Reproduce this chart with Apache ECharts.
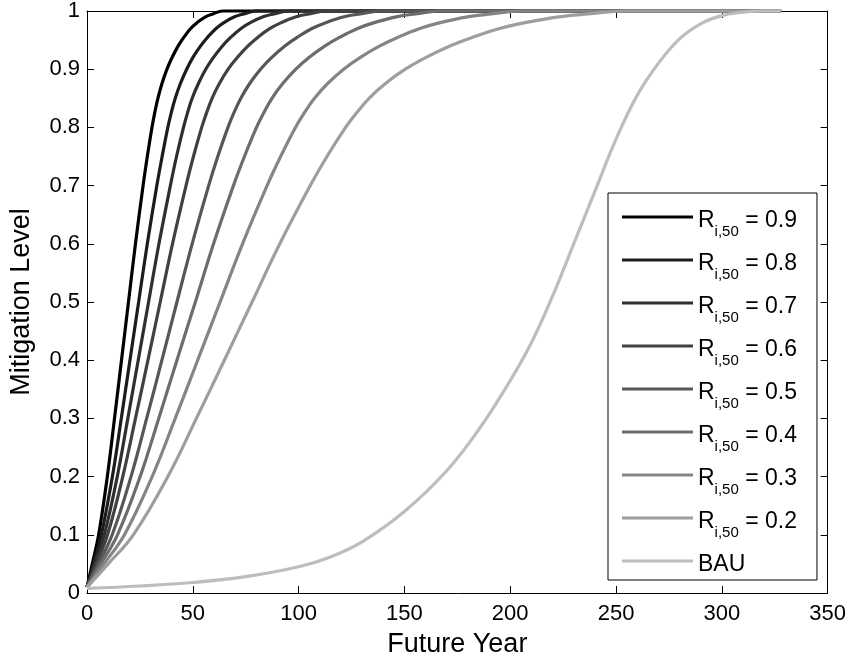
<!DOCTYPE html>
<html>
<head>
<meta charset="utf-8">
<script src="https://cdn.jsdelivr.net/npm/echarts@6/dist/echarts.min.js"></script>
<style>
html, body { margin: 0; padding: 0; background: #fff; }
#chart { width: 849px; height: 666px; }
</style>
</head>
<body>
<div id="chart"></div>
<script>
// mitigation level at each read point of the R curves (same levels for every R)
const levels = [0.01, 0.05, 0.10, 0.20, 0.30, 0.40, 0.50, 0.60, 0.70, 0.75, 0.80, 0.825, 0.85, 0.875,
    0.90, 0.92, 0.94, 0.955, 0.97, 0.98, 0.99, 0.995, 1.00, 1.00];
// future year where each R curve reaches those levels
const years09 = [0, 2.5, 5.5, 9.6, 13.0, 16.3, 19.6, 22.9, 26.5, 28.5, 30.7, 32.0, 33.5, 35.4,
    37.8, 40.2, 43.1, 45.8, 49.0, 52.0, 56.0, 59.5, 64.0, 328];
const years08 = [0, 3.1, 6.8, 12.0, 16.2, 20.3, 24.4, 28.5, 33.0, 35.5, 38.2, 39.8, 41.7, 44.1,
    47.1, 50.0, 53.7, 57.0, 61.0, 64.7, 69.7, 74.1, 79.7, 328];
const years07 = [0, 3.7, 8.2, 14.3, 19.3, 24.2, 29.1, 34.0, 39.4, 42.3, 45.6, 47.5, 49.7, 52.6,
    56.1, 59.7, 64.0, 68.0, 72.8, 77.2, 83.2, 88.4, 95.0, 328];
const years06 = [0, 4.4, 9.7, 16.9, 22.9, 28.8, 34.6, 40.4, 46.8, 50.3, 54.2, 56.5, 59.1, 62.5,
    66.7, 71.0, 76.1, 80.8, 86.5, 91.8, 98.8, 105.0, 113.0, 328];
const years05 = [0, 5.4, 11.9, 20.8, 28.2, 35.4, 42.5, 49.7, 57.5, 61.8, 66.6, 69.4, 72.7, 76.8,
    82.0, 87.2, 93.5, 99.4, 106.3, 112.8, 121.5, 129.1, 138.9, 328];
const years04 = [0, 6.5, 14.4, 25.1, 33.9, 42.5, 51.2, 59.8, 69.2, 74.4, 80.1, 83.5, 87.4, 92.4,
    98.7, 104.9, 112.5, 119.5, 127.9, 135.7, 146.2, 155.3, 167.0, 328];
const years03 = [0, 8.0, 17.7, 30.8, 41.7, 52.3, 62.9, 73.5, 85.1, 91.5, 98.5, 102.7, 107.5, 113.6,
    121.3, 129.0, 138.4, 147.0, 157.3, 166.9, 179.8, 191.0, 205.4, 328];
const years02 = [0, 10.0, 21.9, 38.2, 51.7, 64.9, 78.0, 91.1, 105.5, 113.4, 122.2, 127.4, 133.3, 140.9,
    150.4, 160.0, 171.5, 182.3, 195.0, 207.0, 222.9, 236.8, 254.7, 328];
// business as usual curve
const bauYears = [0, 25, 50, 75, 100, 115, 130, 150, 170, 185, 200, 210, 220, 230, 240, 250, 260, 270, 280, 290, 300, 310, 320, 328];
const bauLevels = [0.008, 0.012, 0.018, 0.028, 0.045, 0.062, 0.088, 0.14, 0.21, 0.28, 0.365, 0.43, 0.51, 0.60, 0.69, 0.78, 0.855, 0.91, 0.952, 0.978, 0.992, 0.998, 1.0, 1.0];

const seriesNames = ["0.9", "0.8", "0.7", "0.6", "0.5", "0.4", "0.3", "0.2", "BAU"];
const seriesColors = ["#000000", "#1c1c1c", "#2f2f2f", "#414141", "#575757", "#6d6d6d", "#858585", "#9e9e9e", "#bdbdbd"];

const curveYears = [years09, years08, years07, years06, years05, years04, years03, years02];

const font = "Liberation Sans, Arial, sans-serif";

function zip(xs, ys) {
    return xs.map((x, i) => [x, ys[i]]);
}

function makeSeries(name, color, data) {
    return {
        name: name,
        type: "line",
        data: data,
        color: color,
        showSymbol: false,
        smooth: 0.4,
        clip: false,
        lineStyle: {width: 3.2, color: color},
        emphasis: {disabled: true},
        animation: false,
    };
}

let series = curveYears.map((ys, i) => makeSeries(seriesNames[i], seriesColors[i], zip(ys, levels)));
series.push(makeSeries("BAU", seriesColors[8], zip(bauYears, bauLevels)));

const axisBase = {
    type: "value",
    axisLine: {show: true, onZero: false, lineStyle: {color: "#000", width: 1}},
    axisTick: {show: true, inside: true, length: 7, lineStyle: {color: "#000", width: 1}},
    splitLine: {show: false},
};

const option = {
    animation: false,
    backgroundColor: "#fff",
    grid: {left: 87, right: 21, top: 8, bottom: 73},
    xAxis: [
        Object.assign({}, axisBase, {
            min: 0, max: 350, interval: 50, position: "bottom",
            axisLabel: {color: "#000", fontSize: 22, fontFamily: font, margin: 10},
            name: "Future Year",
            nameLocation: "middle",
            nameGap: 38,
            nameTextStyle: {color: "#000", fontSize: 27, fontFamily: font},
        }),
        Object.assign({}, axisBase, {
            min: 0, max: 350, interval: 50, position: "top",
            axisLabel: {show: false},
        }),
    ],
    yAxis: [
        Object.assign({}, axisBase, {
            min: 0, max: 1, interval: 0.1, position: "left",
            axisLabel: {color: "#000", fontSize: 22, fontFamily: font, margin: 7},
            name: "Mitigation Level",
            nameLocation: "middle",
            nameGap: 52,
            nameTextStyle: {color: "#000", fontSize: 27, fontFamily: font},
        }),
        Object.assign({}, axisBase, {
            min: 0, max: 1, interval: 0.1, position: "right",
            axisLabel: {show: false},
        }),
    ],
    legend: {
        data: seriesNames,
        orient: "vertical",
        left: 608,
        top: 193,
        padding: [13, 20, 4, 14],
        itemGap: 10,
        itemWidth: 71,
        itemHeight: 3,
        icon: "rect",
        borderColor: "#000",
        borderWidth: 1,
        backgroundColor: "#fff",
        selectedMode: false,
        formatter: (name) => (name === "BAU" ? "{m|BAU}" : "{m|R}{s|i,50}{m| = " + name + "}"),
        textStyle: {
            color: "#000",
            fontFamily: font,
            rich: {
                m: {fontSize: 23, lineHeight: 22, padding: [3, 0, 0, 0], verticalAlign: "top", fontFamily: font, color: "#000"},
                s: {fontSize: 15, lineHeight: 13, padding: [18, 0, 0, 0], verticalAlign: "top", fontFamily: font, color: "#000"},
            },
        },
    },
    series: series,
};

const myChart = echarts.init(document.getElementById("chart"));
myChart.setOption(option);
</script>
</body>
</html>
